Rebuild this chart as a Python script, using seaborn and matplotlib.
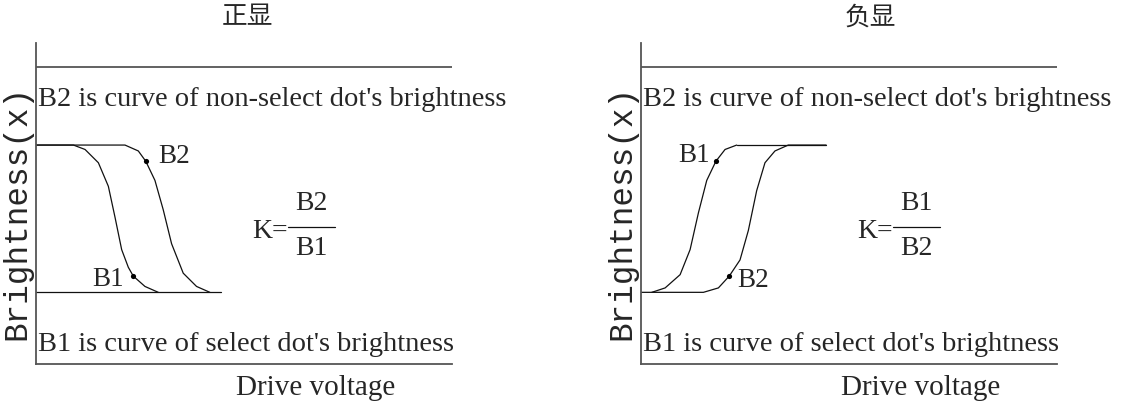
import seaborn as sns
import matplotlib.pyplot as plt

sns.set_theme(style="white")
plt.rcParams["font.family"] = ["Liberation Serif", "Noto Sans CJK SC", "DejaVu Sans"]

panel_titles = ["正显", "负显"]
row_top = "B2 is curve of non-select dot's brightness"
row_bottom = "B1 is curve of select dot's brightness"
x_label = "Drive voltage"
y_label = "Brightness(x)"
k_num = ["B2", "B1"]
k_den = ["B1", "B2"]

# positive display: brightness falls with drive voltage
pos_b1_x = [0, 0.90, 1.18, 1.50, 1.74, 1.90, 2.06, 2.22, 2.34, 2.62, 2.94]
pos_b1_y = [1, 1, 0.97, 0.88, 0.72, 0.51, 0.29, 0.17, 0.11, 0.04, 0]
pos_b2_x = [0, 2.14, 2.46, 2.64, 2.86, 3.06, 3.26, 3.54, 3.86, 4.18]
pos_b2_y = [1, 1, 0.96, 0.89, 0.76, 0.56, 0.33, 0.13, 0.04, 0]
pos_level_x = [0, 4.44]
pos_level_y = [0, 0]
pos_dot_x = [2.34, 2.64]
pos_dot_y = [0.11, 0.89]

# negative display: brightness rises with drive voltage
neg_b1_x = [0.26, 0.58, 0.94, 1.18, 1.38, 1.58, 1.80, 2.02, 2.30]
neg_b1_y = [0, 0.03, 0.12, 0.29, 0.54, 0.76, 0.89, 0.97, 1]
neg_b2_x = [0, 1.50, 1.86, 2.12, 2.38, 2.58, 2.78, 2.98, 3.22, 3.54, 3.82, 4.45]
neg_b2_y = [0, 0, 0.03, 0.11, 0.22, 0.42, 0.69, 0.88, 0.96, 1.0, 1, 1]
neg_level_x = [2.30, 4.45]
neg_level_y = [1, 1]
neg_dot_x = [1.80, 2.12]
neg_dot_y = [0.89, 0.11]

top_line_y = 1.527

panels = [
    (pos_b1_x, pos_b1_y, pos_b2_x, pos_b2_y, pos_level_x, pos_level_y,
     pos_dot_x, pos_dot_y, [(-9, -3, "right"), (12, 5, "left")]),
    (neg_b1_x, neg_b1_y, neg_b2_x, neg_b2_y, neg_level_x, neg_level_y,
     neg_dot_x, neg_dot_y, [(-6, 6, "right"), (8, -4, "left")]),
]

fig = plt.figure(figsize=(11.24, 4.15), dpi=100)
axes = [fig.add_axes([0.032, 0.1217, 0.3701, 0.7754]),
        fig.add_axes([0.5703, 0.1217, 0.3701, 0.7754])]

line_col = "#111111"
axis_col = "#555555"

for i, ax in enumerate(axes):
    b1x, b1y, b2x, b2y, lvx, lvy, dx, dy, offs = panels[i]

    sns.lineplot(x=b1x, y=b1y, ax=ax, sort=False, estimator=None,
                 color=line_col, linewidth=0.9)
    sns.lineplot(x=b2x, y=b2y, ax=ax, sort=False, estimator=None,
                 color=line_col, linewidth=0.9)
    sns.lineplot(x=lvx, y=lvy, ax=ax, sort=False, estimator=None,
                 color=line_col, linewidth=0.9)
    sns.scatterplot(x=dx, y=dy, ax=ax, color="black", s=14, linewidth=0, zorder=5)

    # curve names next to the marked points
    for name, px, py, (ox, oy, ha) in zip(["B1", "B2"], dx, dy, offs):
        ax.annotate(name, (px, py), xytext=(ox, oy), textcoords="offset pixels",
                    ha=ha, va="center", fontsize=19.5)

    ax.axhline(top_line_y, color=axis_col, linewidth=1.3)

    ax.text(0.05, 1.265, row_top, ha="left", va="baseline", fontsize=20.5)
    ax.text(0.05, -0.40, row_bottom, ha="left", va="baseline", fontsize=20.5)

    # K ratio
    ax.text(6.06, 0.41, "K=", ha="right", va="center", fontsize=20)
    ax.plot([6.06, 7.19], [0.445, 0.445], color=line_col, linewidth=0.9)
    ax.text(6.62, 0.603, k_num[i], ha="center", va="center", fontsize=20)
    ax.text(6.62, 0.297, k_den[i], ha="center", va="center", fontsize=20)

    ax.text(0.673, -0.095, x_label, transform=ax.transAxes,
            ha="center", va="baseline", fontsize=21)
    ax.text(-0.0457, 0.474, y_label, transform=ax.transAxes, rotation=90,
            ha="center", va="center", fontsize=23.5, family="Liberation Mono")

    ax.set_xlim(0, 10)
    ax.set_ylim(-0.49, 1.695)
    ax.set_xticks([])
    ax.set_yticks([])
    ax.set_xlabel("")
    ax.set_ylabel("")
    ax.grid(False)
    for side in ["top", "right"]:
        ax.spines[side].set_visible(False)
    for side in ["left", "bottom"]:
        ax.spines[side].set_color(axis_col)
        ax.spines[side].set_linewidth(1.3)

fig.text(0.2202, 0.958, panel_titles[0], ha="center", va="center",
         fontsize=18.5, family=["Noto Sans CJK SC", "DejaVu Sans"])
fig.text(0.774, 0.958, panel_titles[1], ha="center", va="center",
         fontsize=18.5, family=["Noto Sans CJK SC", "DejaVu Sans"])

plt.savefig("out.png", dpi=100)
